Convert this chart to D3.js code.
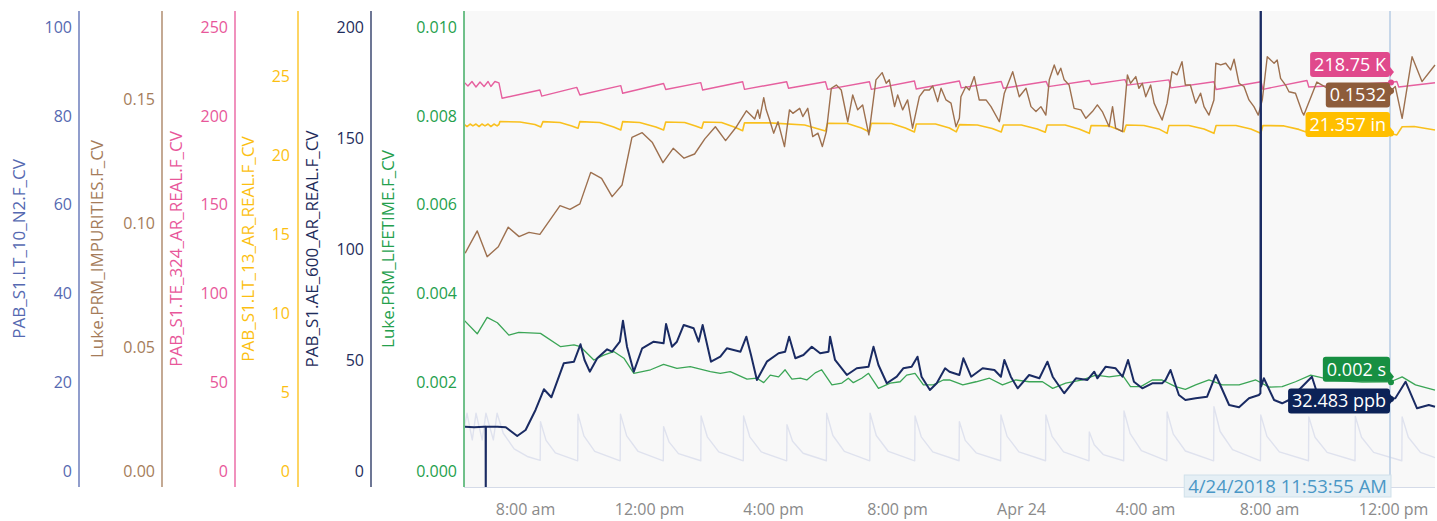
<!DOCTYPE html>
<html><head><meta charset="utf-8">
<script src="https://cdn.jsdelivr.net/npm/d3@7"></script>
<style>
html,body{margin:0;padding:0;background:#fff;}
svg{display:block;font-family:"Open Sans",sans-serif;}
</style></head><body>
<svg id="chart" width="1437" height="521"></svg>
<script>
// ---------- DATA (time = hours since 2018-04-23 00:00, value in series units) ----------
const timeStart = 6.033, timeEnd = 37.35;
const cursorTime = 35 + 53 / 60 + 55 / 3600; // 4/24/2018 11:53:55 AM

const n2Ticks = [0, 20, 40, 60, 80, 100];
const impTicks = [0, 0.05, 0.10, 0.15];
const tempTicks = [0, 50, 100, 150, 200, 250];
const lvlTicks = [0, 5, 10, 15, 20, 25];
const arTicks = [0, 50, 100, 150, 200];
const lifeTicks = [0, 0.002, 0.004, 0.006, 0.008, 0.010];

const n2Max = 100, impMax = 0.179, tempMax = 250, lvlMax = 28.1, arMax = 200, lifeMax = 0.010;

const n2Level = [[6.03,9.2],[6.13,13.0],[6.30,7.0],[6.42,13.0],[6.62,7.0],[6.74,13.0],[6.98,7.0],[7.10,13.0],
 [7.30,8.5],[7.65,5.0],[8.10,3.2],[8.49,2.4],[8.50,11.1],[8.68,6.9],[8.98,4.1],[9.70,2.3],
 [9.71,12.8],[9.90,7.9],[10.25,4.4],[11.07,2.3],[11.08,12.8],[11.28,7.9],[11.65,4.4],[12.46,2.3],
 [12.47,10.0],[12.65,6.5],[12.95,3.9],[13.67,2.3],[13.68,12.4],[13.88,7.7],[14.25,4.3],[15.04,2.3],
 [15.05,12.4],[15.25,7.7],[15.62,4.3],[16.44,2.3],[16.45,10.4],[16.63,6.7],[16.97,4.0],[17.72,2.3],
 [17.73,13.0],[17.93,8.0],[18.30,4.4],[19.12,2.3],[19.13,13.0],[19.33,8.0],[19.72,4.4],[20.57,2.3],
 [20.58,12.4],[20.78,7.7],[21.15,4.3],[22.00,2.3],[22.01,11.1],[22.20,6.9],[22.55,4.1],[23.34,2.3],
 [23.35,12.6],[23.55,7.8],[23.93,4.3],[24.79,2.3],[24.80,12.6],[25.00,7.8],[25.37,4.3],[26.19,2.3],
 [26.20,8.8],[26.36,5.9],[26.65,3.7],[27.31,2.3],[27.32,13.5],[27.52,8.4],[27.88,4.6],[28.70,2.3],
 [28.71,13.3],[28.91,8.3],[29.30,4.5],[30.21,2.3],[30.22,14.5],[30.42,8.9],[30.82,4.8],[31.72,2.3],
 [31.73,12.6],[31.93,7.8],[32.33,4.3],[33.27,2.3],[33.28,12.2],[33.48,7.6],[33.87,4.2],[34.77,2.3],
 [34.78,12.3],[34.98,7.6],[35.37,4.2],[36.28,2.3],[36.29,12.2],[36.49,7.6],[36.88,4.2],[37.35,3.0]];

const impurities = [[6.07,0.0878],[6.46,0.0968],[6.78,0.0864],[7.14,0.0904],[7.46,0.0983],[7.81,0.0945],[8.13,0.0962],[8.48,0.0954],
 [9.13,0.1070],[9.45,0.1055],[9.77,0.1077],[10.12,0.1204],[10.47,0.1180],[10.81,0.1106],[11.13,0.1153],[11.45,0.1345],
 [11.78,0.1364],[12.11,0.1324],[12.45,0.1243],[12.78,0.1301],[13.13,0.1261],[13.47,0.1278],[13.80,0.1339],[14.14,0.1388],
 [14.47,0.1332],[14.82,0.1388],[15.14,0.1452],[15.41,0.1419],[15.51,0.1456],[15.57,0.1422],[15.70,0.1505],[15.78,0.1456],
 [15.89,0.1415],[16.02,0.1362],[16.16,0.1408],[16.37,0.1308],[16.53,0.1456],[16.64,0.1442],[16.86,0.1462],[16.96,0.1429],
 [17.12,0.1462],[17.28,0.1348],[17.45,0.1362],[17.59,0.1308],[17.72,0.1368],[17.88,0.1543],[18.04,0.1556],[18.20,0.1536],
 [18.41,0.1408],[18.57,0.1516],[18.73,0.1456],[18.89,0.1476],[19.09,0.1355],[19.32,0.1577],[19.52,0.1606],[19.65,0.1563],
 [19.75,0.1577],[19.92,0.1469],[20.02,0.1516],[20.18,0.1456],[20.34,0.1496],[20.50,0.1382],[20.72,0.1509],[20.88,0.1536],
 [21.04,0.1536],[21.15,0.1552],[21.31,0.1489],[21.42,0.1543],[21.58,0.1496],[21.74,0.1483],[21.90,0.1388],[22.01,0.1422],
 [22.06,0.1509],[22.22,0.1550],[22.33,0.1536],[22.49,0.1590],[22.65,0.1496],[22.87,0.1496],[23.03,0.1469],[23.30,0.1408],
 [23.46,0.1523],[23.73,0.1610],[23.83,0.1563],[23.94,0.1509],[24.16,0.1543],[24.32,0.1469],[24.48,0.1449],[24.64,0.1469],
 [24.80,0.1435],[24.91,0.1577],[25.07,0.1637],[25.18,0.1597],[25.28,0.1624],[25.39,0.1577],[25.55,0.1556],[25.71,0.1462],
 [25.93,0.1456],[26.09,0.1422],[26.30,0.1449],[26.46,0.1476],[26.62,0.1449],[26.84,0.1388],[26.95,0.1469],[27.05,0.1382],
 [27.27,0.1368],[27.43,0.1597],[27.53,0.1563],[27.70,0.1590],[27.80,0.1543],[27.91,0.1563],[28.02,0.1509],[28.18,0.1556],
 [28.29,0.1483],[28.39,0.1456],[28.55,0.1415],[28.71,0.1483],[28.87,0.1610],[29.03,0.1597],[29.19,0.1650],[29.30,0.1556],
 [29.46,0.1556],[29.63,0.1483],[29.79,0.1523],[29.90,0.1469],[30.06,0.1435],[30.22,0.1496],[30.28,0.1644],[30.44,0.1637],
 [30.60,0.1644],[30.76,0.1617],[30.87,0.1660],[31.03,0.1563],[31.19,0.1550],[31.35,0.1496],[31.51,0.1469],[31.65,0.1435],
 [31.78,0.1496],[31.94,0.1670],[32.16,0.1644],[32.26,0.1657],[32.37,0.1583],[32.53,0.1556],[32.64,0.1529],[32.85,0.1523],
 [33.06,0.1449],[33.12,0.1435],[33.54,0.1568],[34.25,0.1516],[35.05,0.1496],[35.70,0.1536],[35.92,0.1532],[36.07,0.1550],
 [36.29,0.1422],[36.61,0.1670],[36.93,0.1570],[37.35,0.1637]];

const tempTE324 = [[6.03,219.0],[6.16,216.8],[6.29,219.3],[6.42,216.2],[6.55,219.0],[6.68,216.5],[6.81,219.3],[6.90,216.5],
 [7.03,219.3],[7.16,218.5],[7.26,209.9],[8.48,214.5],[8.54,211.1],[9.67,216.0],[9.77,211.7],[11.09,217.0],[11.15,212.7],
 [12.47,218.2],[12.54,214.8],[13.67,218.7],[13.73,214.5],[15.02,219.2],[15.08,214.9],[16.44,219.2],[16.50,215.5],
 [17.69,219.2],[17.76,214.9],[19.11,219.2],[19.17,214.9],[20.56,219.6],[20.62,215.1],[22.01,219.6],[22.07,215.7],
 [23.36,219.3],[23.43,215.5],[24.81,219.3],[24.88,216.4],[26.20,219.9],[26.26,217.6],[27.35,220.4],[27.42,217.3],
 [28.77,220.2],[28.83,215.7],[30.22,219.2],[30.29,214.8],[31.74,219.2],[31.80,214.9],[33.22,219.9],[33.28,216.2],
 [35.92,218.75],[36.12,219.3],[36.18,216.2],[37.35,218.6]];

const levelLT13 = [[6.03,21.96],[6.13,21.80],[6.23,21.96],[6.32,21.84],[6.42,21.96],[6.52,21.80],[6.61,21.96],[6.71,21.84],
 [6.81,21.96],[6.90,21.80],[7.00,21.96],[7.10,21.84],[7.16,21.93],[7.19,22.11],[7.84,22.09],[8.32,21.93],[8.51,21.77],
 [8.58,22.11],[9.13,22.06],[9.51,21.84],[9.71,21.69],[9.77,22.11],[10.41,22.06],[10.86,21.77],[11.09,21.58],
 [11.15,22.11],[11.70,22.06],[12.22,21.77],[12.47,21.58],[12.54,22.09],[13.15,22.06],[13.50,21.84],[13.70,21.69],
 [13.76,22.09],[14.34,22.06],[14.79,21.74],[15.02,21.54],[15.08,22.04],[15.89,22.03],[17.02,21.90],[17.69,21.52],
 [17.76,22.01],[18.40,21.99],[18.85,21.71],[19.11,21.46],[19.17,22.01],[19.82,21.99],[20.27,21.71],[20.56,21.46],
 [20.62,21.96],[21.24,21.96],[21.69,21.71],[21.91,21.46],[22.01,21.92],[22.59,21.90],[23.07,21.68],[23.36,21.46],
 [23.43,21.90],[24.01,21.90],[24.52,21.65],[24.78,21.44],[24.84,21.90],[25.42,21.90],[25.87,21.65],[26.20,21.37],
 [26.26,21.87],[26.84,21.84],[27.32,21.47],[27.39,21.90],[27.96,21.87],[28.44,21.65],[28.71,21.37],[28.77,21.87],
 [29.41,21.87],[29.90,21.65],[30.22,21.37],[30.29,21.87],[30.93,21.87],[31.41,21.65],[31.73,21.37],[31.80,21.87],
 [32.48,21.84],[32.96,21.62],[33.19,21.46],[33.25,21.90],[34.25,21.87],[35.21,21.65],[35.92,21.357],[36.12,21.27],
 [36.29,21.79],[36.68,21.80],[37.35,21.58]];

const argonAE600 = [[6.03,19.96],[6.36,19.69],[6.68,19.96],[6.73,19.9],[6.735,-20],[6.74,19.9],[7.11,19.96],[7.38,19.69],
 [7.75,15.77],[8.02,18.47],[8.34,27.48],[8.61,36.81],[8.85,33.20],[9.25,48.52],[9.58,49.24],[9.79,57.08],[9.92,50.01],
 [10.09,44.73],[10.33,50.77],[10.65,54.83],[10.81,53.74],[11.06,58.25],[11.16,67.71],[11.29,56.00],[11.51,44.73],
 [11.78,55.28],[12.15,58.25],[12.47,57.53],[12.55,66.22],[12.74,56.00],[12.90,58.25],[13.12,65.77],[13.44,64.29],
 [13.60,58.25],[13.73,65.77],[14.00,49.24],[14.30,51.49],[14.51,55.28],[14.95,53.74],[15.14,60.50],[15.29,52.26],
 [15.48,41.00],[15.80,49.24],[16.18,53.02],[16.39,53.74],[16.52,60.50],[16.72,50.77],[16.98,52.26],[17.25,56.00],
 [17.52,53.02],[17.79,53.74],[17.84,60.50],[18.00,50.01],[18.38,43.25],[18.70,46.27],[19.08,46.99],[19.24,56.00],
 [19.40,47.75],[19.67,39.51],[19.99,42.48],[20.20,46.27],[20.47,46.99],[20.66,51.49],[20.79,42.48],[21.06,36.49],
 [21.28,39.51],[21.55,46.27],[21.69,44.73],[22.01,43.25],[22.14,50.77],[22.39,42.48],[22.76,46.27],[23.14,45.50],
 [23.35,42.48],[23.46,50.01],[23.67,42.48],[23.89,37.26],[24.26,43.25],[24.59,41.76],[24.85,49.24],[25.02,42.48],
 [25.39,35.00],[25.77,41.76],[26.14,41.00],[26.36,44.73],[26.46,41.76],[26.73,46.99],[27.05,46.27],[27.27,42.48],
 [27.45,50.01],[27.64,40.23],[27.91,37.26],[28.23,39.51],[28.55,39.51],[28.66,41.00],[28.82,45.50],[29.09,34.24],
 [29.30,31.99],[29.63,32.75],[30.00,33.47],[30.28,43.25],[30.71,29.73],[31.03,28.70],[31.35,32.75],[31.67,34.24],
 [31.72,35.0],[31.73,400],[31.74,38.0],[31.83,41.76],[32.16,31.99],[32.42,30.50],[32.64,31.99],[33.38,42.48],
 [33.55,35.0],[34.5,31.5],[35.3,33.0],[35.92,32.48],[36.07,32.75],[36.40,40.23],[36.77,28.25],[37.15,29.73],[37.35,28.97]];

const lifetime = [[6.03,0.00340],[6.46,0.00309],[6.78,0.00346],[7.11,0.00334],[7.48,0.00306],[7.80,0.00312],[8.50,0.00310],
 [9.15,0.00280],[9.58,0.00284],[9.79,0.00280],[10.22,0.00250],[10.54,0.00261],[10.86,0.00269],[11.19,0.00254],
 [11.51,0.00220],[12.05,0.00228],[12.47,0.00240],[12.90,0.00231],[13.33,0.00235],[13.98,0.00224],[14.30,0.00220],
 [14.62,0.00224],[15.16,0.00207],[15.48,0.00209],[15.70,0.00199],[15.91,0.00216],[16.18,0.00212],[16.39,0.00228],
 [16.61,0.00207],[16.88,0.00209],[17.09,0.00205],[17.36,0.00221],[17.57,0.00228],[17.90,0.00194],[18.22,0.00198],
 [18.43,0.00209],[18.59,0.00199],[18.86,0.00209],[19.08,0.00220],[19.40,0.00186],[19.78,0.00198],[20.10,0.00201],
 [20.31,0.00216],[20.58,0.00220],[20.85,0.00194],[21.17,0.00194],[21.49,0.00205],[21.69,0.00205],[22.12,0.00194],
 [22.55,0.00201],[22.98,0.00209],[23.40,0.00194],[23.83,0.00205],[24.26,0.00201],[24.69,0.00201],[25.02,0.00186],
 [25.44,0.00198],[25.98,0.00205],[26.41,0.00216],[26.84,0.00212],[27.27,0.00216],[27.53,0.00190],[27.86,0.00190],
 [28.23,0.00205],[28.55,0.00205],[28.98,0.00190],[29.30,0.00184],[29.63,0.00194],[30.06,0.00205],[30.49,0.00194],
 [31.03,0.00194],[31.57,0.00205],[32.00,0.00189],[32.42,0.00190],[32.85,0.00201],[33.34,0.00216],[34.0,0.00205],
 [35.0,0.00200],[35.92,0.00201],[36.29,0.00212],[36.72,0.00194],[37.35,0.00182]];

const cursorValues = {temp: 218.75, imp: 0.1532, lvl: 21.357, life: 0.002, ar: 32.483};

// ---------- CHART ----------
const baseDate = new Date(2018, 3, 23, 0, 0, 0);
const toDate = h => new Date(baseDate.getTime() + Math.round(h * 3600) * 1000);

const plot = {left: 464, right: 1435, top: 11, bottom: 487};
const yTop = 27, yBottom = 471;

const svg = d3.select('#chart');
const x = d3.scaleTime().domain([toDate(timeStart), toDate(timeEnd)]).range([plot.left, plot.right]);

const axes = [
 {key:'n2', title:'PAB_S1.LT_10_N2.F_CV', color:'#5669b1', max:n2Max, ticks:n2Ticks, fmt:d3.format('d'), axisX:79, labelX:72, titleX:19},
 {key:'imp', title:'Luke.PRM_IMPURITIES.F_CV', color:'#a57c5a', max:impMax, ticks:impTicks, fmt:d3.format('.2f'), axisX:162, labelX:155, titleX:97},
 {key:'temp', title:'PAB_S1.TE_324_AR_REAL.F_CV', color:'#e8579a', max:tempMax, ticks:tempTicks, fmt:d3.format('d'), axisX:235, labelX:228, titleX:176},
 {key:'lvl', title:'PAB_S1.LT_13_AR_REAL.F_CV', color:'#fcbf12', max:lvlMax, ticks:lvlTicks, fmt:d3.format('d'), axisX:298, labelX:290, titleX:248},
 {key:'ar', title:'PAB_S1.AE_600_AR_REAL.F_CV', color:'#1f2d5c', max:arMax, ticks:arTicks, fmt:d3.format('d'), axisX:371, labelX:364, titleX:312},
 {key:'life', title:'Luke.PRM_LIFETIME.F_CV', color:'#25a04d', max:lifeMax, ticks:lifeTicks, fmt:d3.format('.3f'), axisX:464, labelX:457, titleX:388}
];
const y = {};
axes.forEach(a => { y[a.key] = d3.scaleLinear().domain([0, a.max]).range([yBottom, yTop]); });

// plot background
svg.append('rect').attr('x', plot.left).attr('y', plot.top)
  .attr('width', plot.right - plot.left).attr('height', plot.bottom - plot.top).attr('fill', '#f8f8f8');
svg.append('line').attr('x1', plot.left).attr('x2', plot.right).attr('y1', plot.bottom + 0.5).attr('y2', plot.bottom + 0.5)
  .attr('stroke', '#d5dbe8').attr('stroke-width', 1);

// y axes
axes.forEach(a => {
  const g = svg.append('g');
  g.append('line').attr('x1', a.axisX).attr('x2', a.axisX).attr('y1', plot.top).attr('y2', plot.bottom)
    .attr('stroke', a.color).attr('stroke-width', 1.3);
  g.selectAll('text.tick').data(a.ticks).enter().append('text')
    .attr('x', a.labelX).attr('y', d => y[a.key](d)).attr('dy', '0.36em')
    .attr('text-anchor', 'end').attr('fill', a.color).attr('font-size', 16).text(d => a.fmt(d));
  g.append('text').attr('transform', `translate(${a.titleX},${(plot.top + plot.bottom) / 2}) rotate(-90)`)
    .attr('text-anchor', 'middle').attr('dy', '0.36em').attr('fill', a.color).attr('font-size', 17).text(a.title);
});

// x axis
const fmtX = d => (d.getHours() === 0 && d.getMinutes() === 0) ? d3.timeFormat('%b %-d')(d)
  : d3.timeFormat('%-I:%M %p')(d).toLowerCase();
const xAxis = d3.axisBottom(x).ticks(d3.timeHour.every(4)).tickFormat(fmtX).tickSize(0).tickPadding(17);
const gx = svg.append('g').attr('transform', `translate(0,${plot.bottom})`).call(xAxis);
gx.select('.domain').remove();
gx.selectAll('text').attr('fill', '#8a8a8a').attr('font-size', 16).attr('font-family', '"Open Sans",sans-serif');

// clip
svg.append('clipPath').attr('id', 'clip').append('rect')
  .attr('x', plot.left + 1).attr('y', plot.top).attr('width', plot.right - plot.left).attr('height', plot.bottom - plot.top);
const gl = svg.append('g').attr('clip-path', 'url(#clip)');

const series = [
  {data: n2Level, key: 'n2', color: '#dfe2ee', width: 1.4},
  {data: levelLT13, key: 'lvl', color: '#f9c01e', width: 1.6},
  {data: tempTE324, key: 'temp', color: '#e6609f', width: 1.4},
  {data: impurities, key: 'imp', color: '#9d704f', width: 1.4},
  {data: lifetime, key: 'life', color: '#3ba556', width: 1.3},
  {data: argonAE600, key: 'ar', color: '#1a2b63', width: 2}
];
series.forEach(s => {
  const line = d3.line().x(d => x(toDate(d[0]))).y(d => y[s.key](d[1]));
  gl.append('path').datum(s.data).attr('d', line).attr('fill', 'none')
    .attr('stroke', s.color).attr('stroke-width', s.width).attr('stroke-linejoin', 'round');
});

// cursor
const cx = x(toDate(cursorTime));
svg.append('line').attr('x1', cx).attr('x2', cx).attr('y1', plot.top).attr('y2', plot.bottom)
  .attr('stroke', '#b7cce4').attr('stroke-width', 1.5);

// flags
const flags = [
  {key:'temp', bg:'#e0498c', text: d3.format('.2f')(cursorValues.temp) + ' K', dy: -18},
  {key:'imp', bg:'#8d5c3b', text: d3.format('.4f')(cursorValues.imp), dy: 4},
  {key:'lvl', bg:'#ffbf00', text: d3.format('.3f')(cursorValues.lvl) + ' in', dy: -9},
  {key:'life', bg:'#178f42', text: d3.format('.3f')(cursorValues.life) + ' s', dy: -13},
  {key:'ar', bg:'#0c2257', text: d3.format('.3f')(cursorValues.ar) + ' ppb', dy: 2}
];
flags.forEach(f => {
  const vy = y[f.key](cursorValues[f.key]);
  const cy = vy + f.dy;
  const h = 25;
  const g = svg.append('g');
  const t = g.append('text').attr('x', cx - 4).attr('y', cy).attr('dy', '0.36em').attr('text-anchor', 'end')
    .attr('fill', '#fff').attr('font-size', 18).text(f.text);
  const w = t.node().getComputedTextLength() + 8;
  const py = Math.max(cy - h / 2 + 5, Math.min(cy + h / 2 - 5, vy));
  g.insert('path', 'text').attr('d', `M${cx},${py - 5} L${cx + 4},${py} L${cx},${py + 5} Z`).attr('fill', f.bg);
  g.insert('rect', 'text').attr('x', cx - w).attr('y', cy - h / 2).attr('width', w).attr('height', h)
    .attr('rx', 3).attr('fill', f.bg);
  g.append('circle').attr('cx', cx + 1).attr('cy', vy).attr('r', 3).attr('fill', f.bg);
});

// cursor timestamp
const tsText = d3.timeFormat('%-m/%-d/%Y %-I:%M:%S %p')(toDate(cursorTime));
const tg = svg.append('g');
const tt = tg.append('text').attr('x', cx - 3).attr('y', 486).attr('dy', '0.36em').attr('text-anchor', 'end')
  .attr('fill', '#4a97c6').attr('font-size', 18.5).text(tsText);
const tw = tt.node().getComputedTextLength() + 8;
tg.insert('rect', 'text').attr('x', cx - tw + 1).attr('y', 475).attr('width', tw).attr('height', 22)
  .attr('fill', '#e5eff5').attr('stroke', '#cfe0ea').attr('stroke-width', 1);
</script>
</body></html>
